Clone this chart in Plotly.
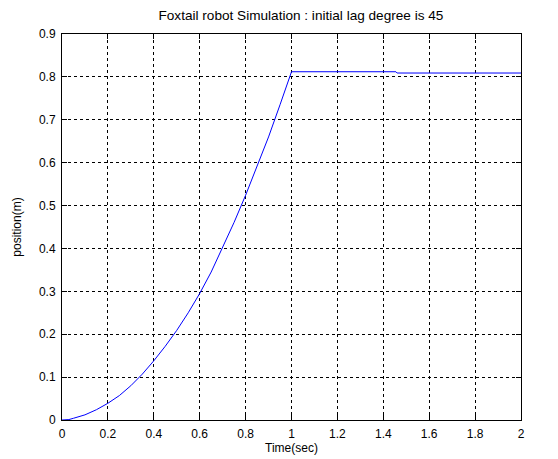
import plotly.graph_objects as go

t_rise = [0, 0.03, 0.05, 0.1, 0.15, 0.2, 0.25, 0.3, 0.35, 0.4, 0.45, 0.5, 0.55,
          0.6, 0.65, 0.7, 0.75, 0.8, 0.85, 0.9, 0.95, 1.0]
y_rise = [0, 0.001, 0.004, 0.012, 0.024, 0.039, 0.057, 0.08, 0.107, 0.138, 0.172,
          0.209, 0.25, 0.295, 0.345, 0.401, 0.461, 0.524, 0.59, 0.66, 0.735, 0.812]
t_flat = [1.455, 1.46, 2.0]
y_flat = [0.812, 0.809, 0.809]

time = t_rise + t_flat
position = y_rise + y_flat

fig = go.Figure()
fig.add_trace(go.Scatter(x=time, y=position, mode="lines",
                         line=dict(color="#0000ff", width=1), showlegend=False))

fam = "Liberation Sans, Arial, sans-serif"
font = dict(family=fam, size=12, color="black")
axis_common = dict(showline=True, linecolor="black", linewidth=1, mirror="ticks",
                   ticks="inside", ticklen=5, tickcolor="black",
                   showgrid=True, gridcolor="black", gridwidth=1, griddash="3px,3px",
                   zeroline=False, tickfont=font, automargin=False,
                   ticklabelstandoff=3)

fig.update_layout(
    width=558, height=459,
    margin=dict(l=54, r=45, t=26, b=47),
    paper_bgcolor="white", plot_bgcolor="white",
    font=font,
    title=dict(text="Foxtail robot Simulation : initial lag degree is 45",
               xref="container", x=0.525, xanchor="center",
               yref="container", y=1 - 7 / 459, yanchor="middle",
               font=dict(family=fam, size=13.6, color="black")),
    xaxis=dict(range=[0, 2], dtick=0.2, tick0=0,
               title=dict(text="Time(sec)", standoff=3, font=font), **axis_common),
    yaxis=dict(range=[0, 0.9], dtick=0.1, tick0=0,
               title=dict(text="position(m)", standoff=14, font=font), **axis_common),
)

fig.write_html("out.html")
